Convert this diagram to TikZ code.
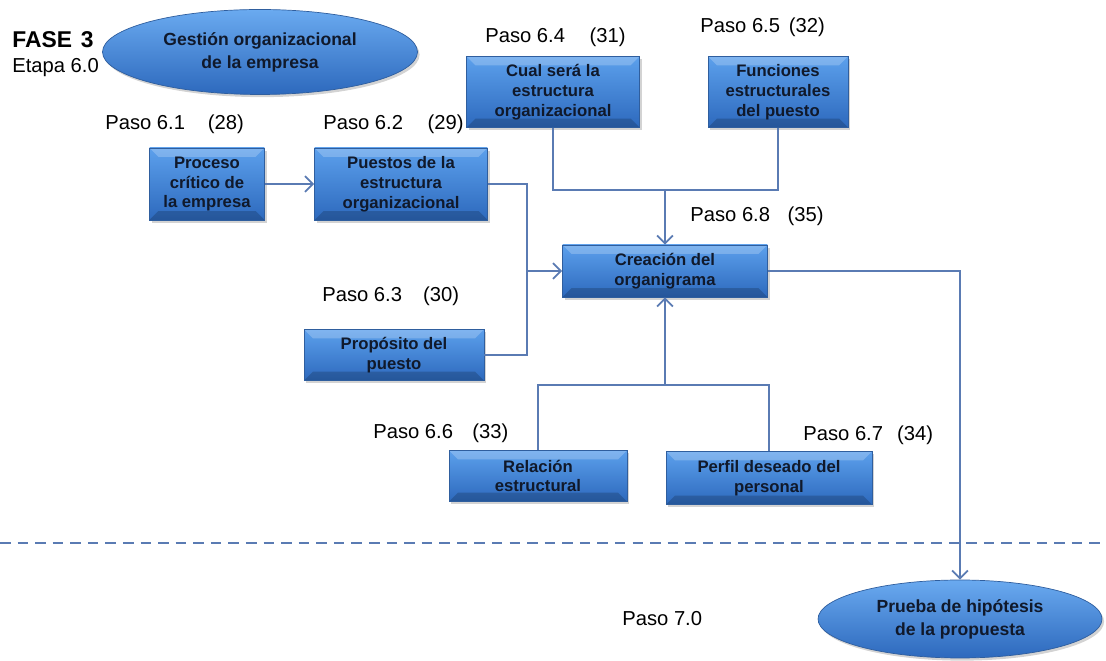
\documentclass[tikz,border=0pt]{standalone}
\usepackage{fontspec}
\setmainfont{Liberation Sans}
\usetikzlibrary{arrows.meta,shadows,shapes.geometric}

\definecolor{boxtop}{HTML}{5CA0EC}
\definecolor{boxbot}{HTML}{2D69BD}
\definecolor{boxedge}{HTML}{2F5E9E}
\definecolor{ellmid}{HTML}{6AAAF0}
\definecolor{textdark}{HTML}{10192B}
\definecolor{lineblue}{HTML}{5A7BB3}

\tikzset{
    pasobox/.style={rectangle, draw=boxedge, line width=0.4pt,
        top color=boxtop, bottom color=boxbot, text=textdark, align=center,
        font=\bfseries\fontsize{9.5}{11.3}\selectfont,
        drop shadow={shadow xshift=1.2pt, shadow yshift=-1.5pt, opacity=0.35},
        path picture={
            \fill[white, opacity=0.22] (path picture bounding box.north west) -- (path picture bounding box.north east)
                -- ([xshift=-5pt,yshift=-5pt]path picture bounding box.north east) -- ([xshift=5pt,yshift=-5pt]path picture bounding box.north west) -- cycle;
            \fill[black, opacity=0.18] (path picture bounding box.south west) -- (path picture bounding box.south east)
                -- ([xshift=-5pt,yshift=5pt]path picture bounding box.south east) -- ([xshift=5pt,yshift=5pt]path picture bounding box.south west) -- cycle;
        }},
    faseellipse/.style={ellipse, draw=boxedge, line width=0.4pt,
        top color=ellmid, bottom color=boxbot, text=textdark, align=center,
        font=\bfseries\fontsize{10}{13}\selectfont, inner sep=0pt,
        drop shadow={shadow xshift=1.2pt, shadow yshift=-1.5pt, opacity=0.35}},
    pasolabel/.style={anchor=west, inner sep=0pt, font=\fontsize{11.5}{13}\selectfont},
    conector/.style={draw=lineblue, line width=1pt},
    flecha/.style={conector, -{Straight Barb[length=4.5pt,width=9pt]}},
    divisor/.style={draw=lineblue, line width=1.2pt, dash pattern=on 6pt off 4pt}
}

\begin{document}
\begin{tikzpicture}[x=0.02cm, y=-0.02cm]
    \useasboundingbox (0,0) rectangle (1106,661);

    % fase y etapa
    \node[anchor=west, inner sep=0pt, font=\bfseries\fontsize{13}{15}\selectfont] (fase) at (12,40) {FASE\hspace{5pt}3};
    \node[anchor=west, inner sep=0pt, font=\fontsize{11.5}{13}\selectfont] (etapa) at (12,68) {Etapa 6.0};
    \node[faseellipse, minimum width=6.3cm, minimum height=1.7cm] (gestion) at (260,52) {Gesti\'on organizacional\\de la empresa};

    % pasos
    \node[pasobox, minimum width=2.30cm, minimum height=1.44cm] (proceso) at (207,184) {Proceso\\cr\'itico de\\la empresa};
    \node[pasobox, minimum width=3.46cm, minimum height=1.44cm] (puestos) at (401,184) {Puestos de la\\estructura\\organizacional};
    \node[pasobox, minimum width=3.46cm, minimum height=1.42cm] (cual) at (553,92) {Cual ser\'a la\\estructura\\organizacional};
    \node[pasobox, minimum width=2.80cm, minimum height=1.42cm] (funciones) at (778,92) {Funciones\\estructurales\\del puesto};
    \node[pasobox, minimum width=4.10cm, minimum height=1.04cm] (creacion) at (665,271) {Creaci\'on del\\organigrama};
    \node[pasobox, minimum width=3.60cm, minimum height=1.02cm] (proposito) at (394,355) {Prop\'osito del\\puesto};
    \node[pasobox, minimum width=3.56cm, minimum height=1.02cm] (relacion) at (538,476) {Relaci\'on\\estructural};
    \node[pasobox, minimum width=4.12cm, minimum height=1.06cm] (perfil) at (769,478) {Perfil deseado del\\personal};
    \node[faseellipse, minimum width=5.68cm, minimum height=1.56cm] (prueba) at (960,619) {Prueba de hip\'otesis\\de la propuesta};

    % etiquetas
    \node[pasolabel] (l61) at (105,124) {Paso 6.1\hspace{13pt}(28)};
    \node[pasolabel] (l62) at (323,124) {Paso 6.2\hspace{14pt}(29)};
    \node[pasolabel] (l64) at (485,37) {Paso 6.4\hspace{14pt}(31)};
    \node[pasolabel] (l65) at (700,27) {Paso 6.5\hspace{5pt}(32)};
    \node[pasolabel] (l68) at (690,216) {Paso 6.8\hspace{10pt}(35)};
    \node[pasolabel] (l63) at (322,296) {Paso 6.3\hspace{12pt}(30)};
    \node[pasolabel] (l66) at (373,433) {Paso 6.6\hspace{11pt}(33)};
    \node[pasolabel] (l67) at (803,435) {Paso 6.7\hspace{8pt}(34)};
    \node[pasolabel] (l70) at (622,619) {Paso 7.0};

    % conectores
    \coordinate (j1) at (527,182);
    \coordinate (j3) at (663,190);
    \coordinate (j4) at (663,385);
    \draw[flecha] (proceso.east) -- (puestos.west);
    \draw[conector] (puestos.east) -- (puestos.east -| j1) -- (j1 |- proposito.east) -- (proposito.east);
    \draw[flecha] (j1 |- creacion.west) -- (creacion.west);
    \draw[conector] (cual.south) -- (cual.south |- j3) -- (funciones.south |- j3) -- (funciones.south);
    \draw[flecha] (creacion.north |- j3) -- (creacion.north);
    \draw[conector] (relacion.north) -- (relacion.north |- j4) -- (perfil.north |- j4) -- (perfil.north);
    \draw[flecha] (creacion.south |- j4) -- (creacion.south);
    \draw[flecha] (creacion.east) -| (prueba.north);

    % division de fases
    \coordinate (d1) at (0,543);
    \coordinate (d2) at (1106,543);
    \draw[divisor] (d1) -- (d2);
\end{tikzpicture}
\end{document}
